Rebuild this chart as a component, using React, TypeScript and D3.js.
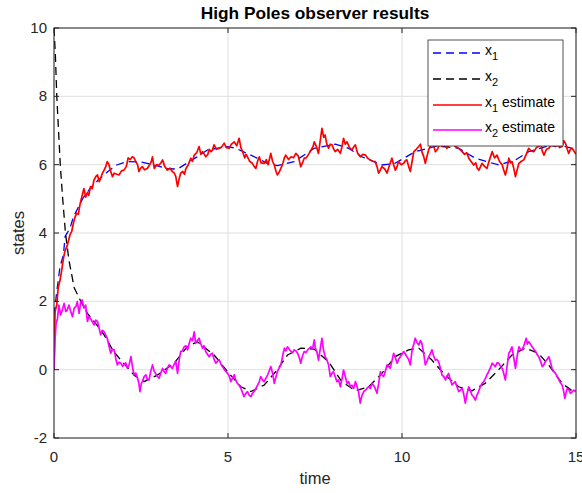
import * as d3 from 'd3';

// true state x1 (blue dashed)
const x1Time = [0, 0.1, 0.17, 0.27, 0.32, 0.46, 0.56, 0.84, 1.05, 1.27, 1.55, 1.8, 2.09, 2.5, 2.88, 3.3, 3.55, 3.83, 4.1, 4.41, 4.98, 5.22, 5.66, 6.13, 6.42, 6.9, 7.48, 8.08, 8.46, 8.85, 9.42, 9.8, 10.38, 11.0, 11.63, 12.1, 12.78, 13.26, 13.64, 14.2, 14.6, 15];
const x1True = [1.6, 2.45, 3.0, 3.36, 3.9, 4.14, 4.48, 5.03, 5.32, 5.55, 5.8, 5.99, 6.09, 6.08, 5.99, 5.88, 5.87, 6.05, 6.22, 6.43, 6.53, 6.48, 6.28, 6.04, 5.97, 6.09, 6.48, 6.6, 6.48, 6.23, 5.99, 6.04, 6.38, 6.55, 6.48, 6.19, 5.99, 6.14, 6.38, 6.55, 6.55, 6.45];

// true state x2 (black dashed)
const x2Time = [0, 0.04, 0.08, 0.13, 0.18, 0.25, 0.33, 0.43, 0.58, 0.77, 0.96, 1.2, 1.44, 1.7, 1.92, 2.3, 2.59, 2.97, 3.45, 3.83, 4.12, 4.6, 4.99, 5.37, 5.66, 6.04, 6.42, 6.71, 7.1, 7.48, 7.89, 8.27, 8.66, 9.04, 9.42, 9.8, 10.19, 10.48, 10.86, 11.24, 11.63, 12.01, 12.39, 12.78, 13.16, 13.54, 13.92, 14.21, 14.6, 14.93, 15];
const x2True = [10, 9.2, 8.0, 7.0, 6.0, 5.0, 4.0, 3.2, 2.4, 2.0, 1.65, 1.35, 1.02, 0.55, 0.28, -0.16, -0.35, -0.16, 0.19, 0.67, 0.82, 0.43, -0.06, -0.5, -0.64, -0.45, 0, 0.43, 0.63, 0.6, 0.23, -0.35, -0.62, -0.5, -0.11, 0.38, 0.58, 0.63, 0.28, -0.16, -0.5, -0.62, -0.4, 0, 0.43, 0.63, 0.48, 0.14, -0.4, -0.65, -0.67];

// x1 estimate (red)
const est1Time = [0, 0.03, 0.08, 0.12, 0.17, 0.22, 0.27, 0.31, 0.37, 0.41, 0.46, 0.51, 0.56, 0.6, 0.65, 0.7, 0.75, 0.8, 0.86, 0.91, 0.96, 1.0, 1.05, 1.1, 1.15, 1.2, 1.25, 1.3, 1.34, 1.39, 1.44, 1.49, 1.53, 1.58, 1.63, 1.68, 1.73, 1.8, 1.87, 1.94, 2.01, 2.08, 2.13, 2.19, 2.25, 2.3, 2.35, 2.4, 2.44, 2.49, 2.54, 2.6, 2.68, 2.75, 2.8, 2.83, 2.88, 2.95, 3.02, 3.07, 3.12, 3.18, 3.26, 3.33, 3.4, 3.46, 3.5, 3.55, 3.6, 3.64, 3.7, 3.75, 3.79, 3.86, 3.93, 3.98, 4.03, 4.1, 4.17, 4.22, 4.27, 4.32, 4.36, 4.42, 4.46, 4.51, 4.55, 4.6, 4.67, 4.75, 4.82, 4.89, 4.95, 5.03, 5.1, 5.18, 5.25, 5.32, 5.37, 5.42, 5.48, 5.52, 5.56, 5.62, 5.7, 5.75, 5.8, 5.85, 5.9, 5.95, 6.04, 6.1, 6.15, 6.2, 6.23, 6.28, 6.33, 6.38, 6.42, 6.47, 6.52, 6.58, 6.62, 6.66, 6.74, 6.81, 6.88, 6.95, 7.02, 7.09, 7.14, 7.19, 7.25, 7.33, 7.4, 7.45, 7.48, 7.54, 7.6, 7.65, 7.7, 7.75, 7.79, 7.84, 7.89, 7.94, 7.99, 8.04, 8.08, 8.15, 8.23, 8.28, 8.32, 8.37, 8.42, 8.49, 8.56, 8.6, 8.66, 8.72, 8.8, 8.87, 8.95, 9.02, 9.09, 9.16, 9.23, 9.28, 9.33, 9.38, 9.42, 9.5, 9.57, 9.63, 9.71, 9.76, 9.81, 9.86, 9.9, 9.98, 10.05, 10.1, 10.14, 10.19, 10.24, 10.29, 10.34, 10.41, 10.48, 10.53, 10.57, 10.62, 10.67, 10.72, 10.77, 10.81, 10.86, 10.91, 10.96, 11.02, 11.08, 11.15, 11.22, 11.29, 11.36, 11.43, 11.48, 11.53, 11.6, 11.66, 11.73, 11.8, 11.86, 11.92, 11.98, 12.06, 12.12, 12.16, 12.21, 12.26, 12.3, 12.37, 12.44, 12.5, 12.55, 12.59, 12.66, 12.73, 12.8, 12.88, 12.92, 12.97, 13.02, 13.07, 13.12, 13.16, 13.21, 13.26, 13.31, 13.36, 13.43, 13.5, 13.57, 13.64, 13.71, 13.79, 13.86, 13.93, 13.98, 14.03, 14.08, 14.15, 14.22, 14.3, 14.36, 14.41, 14.47, 14.53, 14.6, 14.65, 14.7, 14.75, 14.79, 14.84, 14.89, 14.94, 14.99, 15];
const est1Val = [0, 1.7, 1.9, 2.4, 2.6, 2.9, 3.25, 3.45, 3.6, 3.75, 3.95, 4.05, 4.3, 4.45, 4.58, 4.55, 4.85, 5.06, 5.3, 5.05, 5.18, 5.1, 5.36, 5.3, 5.55, 5.65, 5.7, 5.5, 5.6, 5.75, 5.84, 5.95, 6.09, 6.0, 5.8, 5.65, 5.75, 5.72, 5.7, 5.82, 5.84, 5.95, 6.2, 6.15, 6.23, 6.2, 6.09, 6.0, 5.8, 5.9, 5.94, 5.85, 5.89, 6.0, 6.1, 6.23, 5.89, 6.0, 5.99, 6.05, 6.14, 5.95, 5.84, 5.9, 5.8, 5.75, 5.65, 5.36, 5.6, 5.75, 5.8, 5.72, 5.89, 6.0, 6.19, 6.1, 6.28, 6.35, 6.53, 6.3, 6.38, 6.3, 6.23, 6.3, 6.45, 6.38, 6.42, 6.58, 6.45, 6.48, 6.52, 6.63, 6.5, 6.48, 6.6, 6.67, 6.55, 6.77, 6.5, 6.38, 6.2, 6.3, 6.23, 6.1, 6.04, 5.95, 5.89, 6.1, 6.23, 6.05, 6.04, 6.15, 6.0, 6.2, 6.33, 6.1, 5.99, 5.8, 5.7, 5.78, 5.89, 6.05, 6.2, 6.28, 6.15, 6.23, 6.2, 6.33, 6.25, 5.94, 6.05, 6.19, 6.2, 6.33, 6.45, 6.55, 6.67, 6.53, 6.33, 6.7, 7.06, 6.8, 6.87, 6.6, 6.48, 6.6, 6.58, 6.45, 6.38, 6.45, 6.33, 6.55, 6.77, 6.6, 6.67, 6.5, 6.43, 6.5, 6.58, 6.35, 6.23, 6.3, 6.28, 6.18, 6.14, 6.1, 6.09, 5.95, 5.75, 5.85, 5.94, 5.88, 5.75, 5.95, 6.19, 6.0, 5.84, 5.95, 6.09, 6.0, 6.04, 6.12, 6.14, 5.95, 5.8, 6.1, 6.38, 6.45, 6.53, 6.6, 6.38, 6.25, 6.04, 6.25, 6.45, 6.53, 6.7, 6.55, 6.38, 6.45, 6.6, 6.53, 6.62, 6.48, 6.6, 6.7, 6.6, 6.53, 6.5, 6.45, 6.38, 6.3, 6.35, 6.19, 6.1, 5.99, 6.05, 5.9, 5.84, 5.95, 6.04, 5.95, 5.89, 6.1, 6.25, 6.38, 6.2, 6.28, 6.1, 5.99, 5.85, 5.7, 5.9, 6.19, 6.05, 6.09, 5.9, 5.65, 5.85, 6.04, 6.1, 6.14, 6.3, 6.48, 6.4, 6.38, 6.5, 6.53, 6.65, 6.4, 6.28, 6.45, 6.48, 6.6, 6.55, 6.53, 6.65, 6.5, 6.53, 6.7, 6.62, 6.45, 6.33, 6.45, 6.48, 6.4, 6.33, 6.3];

// x2 estimate (magenta)
const est2Time = [0, 0.03, 0.06, 0.1, 0.14, 0.19, 0.24, 0.29, 0.34, 0.38, 0.43, 0.48, 0.53, 0.58, 0.63, 0.67, 0.72, 0.77, 0.81, 0.86, 0.91, 0.96, 1.0, 1.05, 1.1, 1.15, 1.2, 1.25, 1.3, 1.34, 1.39, 1.44, 1.49, 1.53, 1.58, 1.63, 1.68, 1.73, 1.78, 1.82, 1.87, 1.92, 1.97, 2.01, 2.06, 2.11, 2.16, 2.21, 2.26, 2.3, 2.35, 2.4, 2.44, 2.47, 2.51, 2.54, 2.59, 2.64, 2.68, 2.73, 2.78, 2.83, 2.88, 2.92, 2.97, 3.02, 3.07, 3.12, 3.16, 3.21, 3.26, 3.31, 3.36, 3.4, 3.45, 3.5, 3.55, 3.6, 3.64, 3.69, 3.74, 3.79, 3.84, 3.88, 3.93, 3.98, 4.03, 4.07, 4.12, 4.17, 4.22, 4.27, 4.31, 4.36, 4.41, 4.46, 4.51, 4.55, 4.6, 4.65, 4.7, 4.75, 4.8, 4.84, 4.9, 4.94, 4.99, 5.04, 5.08, 5.13, 5.18, 5.22, 5.27, 5.32, 5.37, 5.41, 5.46, 5.51, 5.56, 5.61, 5.66, 5.7, 5.75, 5.8, 5.85, 5.9, 5.94, 5.99, 6.04, 6.09, 6.14, 6.18, 6.23, 6.28, 6.33, 6.38, 6.42, 6.47, 6.52, 6.57, 6.62, 6.66, 6.71, 6.76, 6.81, 6.86, 6.9, 6.95, 7.0, 7.05, 7.09, 7.14, 7.19, 7.24, 7.29, 7.33, 7.38, 7.43, 7.48, 7.51, 7.56, 7.6, 7.65, 7.7, 7.74, 7.79, 7.84, 7.89, 7.94, 7.99, 8.03, 8.08, 8.13, 8.18, 8.23, 8.28, 8.32, 8.37, 8.42, 8.47, 8.51, 8.56, 8.61, 8.66, 8.71, 8.75, 8.8, 8.85, 8.9, 8.95, 8.99, 9.04, 9.09, 9.14, 9.18, 9.23, 9.28, 9.33, 9.38, 9.42, 9.47, 9.52, 9.57, 9.62, 9.66, 9.71, 9.76, 9.81, 9.86, 9.9, 9.95, 10.0, 10.05, 10.1, 10.14, 10.19, 10.24, 10.29, 10.34, 10.38, 10.43, 10.48, 10.53, 10.57, 10.62, 10.67, 10.72, 10.77, 10.81, 10.86, 10.91, 10.96, 11.0, 11.05, 11.1, 11.15, 11.2, 11.25, 11.29, 11.34, 11.39, 11.44, 11.48, 11.53, 11.58, 11.63, 11.68, 11.73, 11.77, 11.82, 11.87, 11.92, 11.96, 12.01, 12.06, 12.11, 12.15, 12.2, 12.25, 12.3, 12.35, 12.4, 12.44, 12.49, 12.54, 12.59, 12.63, 12.68, 12.73, 12.78, 12.83, 12.88, 12.92, 12.97, 13.02, 13.07, 13.11, 13.16, 13.21, 13.26, 13.31, 13.36, 13.4, 13.45, 13.5, 13.57, 13.6, 13.64, 13.69, 13.74, 13.79, 13.84, 13.88, 13.93, 13.98, 14.03, 14.08, 14.12, 14.17, 14.22, 14.27, 14.31, 14.36, 14.41, 14.46, 14.51, 14.56, 14.6, 14.64, 14.68, 14.72, 14.75, 14.8, 14.84, 14.89, 14.94, 15];
const est2Val = [0, 0.9, 1.35, 1.5, 1.89, 1.6, 1.75, 1.94, 1.7, 1.75, 1.89, 1.7, 1.55, 1.8, 1.85, 1.99, 1.65, 1.99, 2.04, 1.8, 1.89, 1.41, 1.55, 1.5, 1.4, 1.31, 1.45, 1.41, 1.2, 1.02, 1.15, 1.11, 1.0, 0.92, 0.7, 0.48, 0.6, 0.58, 0.3, 0.14, 0.22, 0.19, 0.1, 0.14, 0.2, 0.04, 0.15, 0.38, 0.05, -0.15, -0.1, -0.25, -0.4, -0.64, -0.4, -0.35, -0.2, -0.15, -0.28, -0.3, -0.05, 0.14, -0.05, -0.11, -0.2, -0.25, -0.1, 0.04, -0.05, -0.11, 0.05, 0.14, 0.08, 0.04, 0.15, 0.24, -0.11, 0.3, 0.53, 0.55, 0.67, 0.7, 0.58, 0.75, 0.92, 0.85, 1.11, 0.77, 0.85, 0.92, 0.75, 0.63, 0.7, 0.53, 0.45, 0.38, 0.45, 0.48, 0.3, 0.19, 0.25, 0.29, 0.15, 0.09, 0.0, -0.05, -0.11, -0.2, -0.35, -0.25, -0.15, -0.3, -0.4, -0.45, -0.55, -0.65, -0.79, -0.7, -0.64, -0.75, -0.79, -0.7, -0.64, -0.55, -0.45, -0.35, -0.2, -0.3, -0.35, -0.25, -0.15, -0.05, 0.09, -0.1, -0.4, -0.2, -0.06, 0.05, 0.14, 0.4, 0.63, 0.55, 0.67, 0.6, 0.53, 0.5, 0.58, 0.55, 0.48, 0.35, 0.19, 0.4, 0.53, 0.5, 0.58, 0.62, 0.67, 0.6, 0.87, 0.63, 0.5, 0.28, 0.6, 0.92, 0.6, 0.38, 0.3, 0.14, -0.2, -0.1, -0.06, -0.2, -0.35, -0.3, -0.5, -0.25, -0.01, -0.2, -0.4, -0.35, -0.5, -0.45, -0.55, -0.35, -0.5, -0.64, -0.98, -0.75, -0.64, -0.6, -0.55, -0.5, -0.55, -0.4, -0.45, -0.55, -0.69, -0.4, -0.06, -0.15, -0.2, -0.05, 0.14, 0.1, 0.04, 0.25, 0.48, 0.35, 0.19, 0.3, 0.38, 0.45, 0.53, 0.45, 0.38, 0.3, 0.14, 0.58, 0.75, 0.92, 0.8, 0.72, 0.85, 0.77, 0.5, 0.14, 0.25, 0.38, 0.45, 0.58, 0.4, 0.28, 0.3, 0.24, 0.05, -0.16, -0.2, -0.3, -0.2, -0.11, -0.3, -0.45, -0.4, -0.35, -0.5, -0.64, -0.6, -0.55, -0.7, -0.98, -0.7, -0.5, -0.6, -0.74, -0.8, -0.89, -0.75, -0.64, -0.5, -0.4, -0.35, -0.25, -0.15, -0.06, 0.05, 0.19, 0.15, 0.09, 0.2, 0.19, 0.1, 0.04, -0.1, -0.3, 0.1, 0.48, 0.55, 0.67, 0.35, 0.04, 0.4, 0.67, 0.6, 0.58, 0.7, 0.92, 0.75, 0.82, 0.75, 0.67, 0.6, 0.53, 0.45, 0.38, 0.25, 0.09, 0.15, 0.24, 0.3, 0.38, 0.2, 0.04, -0.05, -0.11, -0.2, -0.3, -0.4, -0.45, -0.6, -0.84, -0.65, -0.55, -0.6, -0.69, -0.65, -0.6, -0.64];

const xTicks = [0, 5, 10, 15];
const yTicks = [-2, 0, 2, 4, 6, 8, 10];
const legendLabels = ['x', 'x', 'x', 'x'];
const legendSubs = ['1', '2', '1', '2'];
const legendSuffix = ['', '', ' estimate', ' estimate'];

const W = 582;
const H = 493;
const margin = { top: 28, right: 6, bottom: 55, left: 54 };
const axisColor = '#262626';
const font = "'Liberation Sans', Arial, sans-serif";

const App = () => {
  const innerW = W - margin.left - margin.right;
  const innerH = H - margin.top - margin.bottom;

  const x = d3.scaleLinear().domain([0, 15]).range([0, innerW]);
  const y = d3.scaleLinear().domain([-2, 10]).range([innerH, 0]);

  const line = d3.line<[number, number]>()
    .x(d => x(d[0]))
    .y(d => y(d[1]));

  const zip = (t: number[], v: number[]) => t.map((tt, i) => [tt, v[i]] as [number, number]);

  const series = [
    { pts: zip(x1Time, x1True), color: '#0000ff', dash: '8,5', width: 1.3 },
    { pts: zip(x2Time, x2True), color: '#000000', dash: '8,5', width: 1.3 },
    { pts: zip(est1Time, est1Val), color: '#ff0000', dash: undefined, width: 1.7 },
    { pts: zip(est2Time, est2Val), color: '#ff00ff', dash: undefined, width: 1.7 },
  ];

  // legend box in axes coordinates
  const lg = { x: 428 - margin.left, y: 40 - margin.top, w: 135, h: 106 };
  const rowY = [13, 39, 65, 90];

  return (
    <svg width={W} height={H} style={{ position: 'fixed', left: 0, top: 0, background: '#fff' }} fontFamily={font}>
      <rect width={W} height={H} fill="#fff" />
      <text x={margin.left + innerW / 2} y={19} textAnchor="middle" fontWeight="bold" fontSize={17.3} fill="#000">
        High Poles observer results
      </text>
      <g transform={`translate(${margin.left},${margin.top})`}>
        <defs>
          <clipPath id="plotClip">
            <rect x={0} y={0} width={innerW} height={innerH} />
          </clipPath>
        </defs>
        {/* grid */}
        {xTicks.map(t => (
          <line key={`gx${t}`} x1={x(t)} x2={x(t)} y1={0} y2={innerH} stroke="#dfdfdf" strokeWidth={1} />
        ))}
        {yTicks.map(t => (
          <line key={`gy${t}`} x1={0} x2={innerW} y1={y(t)} y2={y(t)} stroke="#dfdfdf" strokeWidth={1} />
        ))}
        {/* data */}
        <g clipPath="url(#plotClip)">
          {series.map((s, i) => (
            <path key={i} d={line(s.pts) || ''} fill="none" stroke={s.color} strokeWidth={s.width}
              strokeDasharray={s.dash} strokeLinejoin="round" />
          ))}
        </g>
        {/* box and ticks */}
        <rect x={0} y={0} width={innerW} height={innerH} fill="none" stroke={axisColor} strokeWidth={1} />
        {xTicks.map(t => (
          <g key={`tx${t}`}>
            <line x1={x(t)} x2={x(t)} y1={innerH} y2={innerH - 5} stroke={axisColor} />
            <line x1={x(t)} x2={x(t)} y1={0} y2={5} stroke={axisColor} />
            <text x={x(t)} y={innerH + 24} textAnchor="middle" fontSize={15} fill={axisColor}>{t}</text>
          </g>
        ))}
        {yTicks.map(t => (
          <g key={`ty${t}`}>
            <line x1={0} x2={5} y1={y(t)} y2={y(t)} stroke={axisColor} />
            <line x1={innerW} x2={innerW - 5} y1={y(t)} y2={y(t)} stroke={axisColor} />
            <text x={-7} y={y(t) + 5} textAnchor="end" fontSize={15} fill={axisColor}>{t}</text>
          </g>
        ))}
        <text x={innerW / 2} y={innerH + 46} textAnchor="middle" fontSize={16.5} fill={axisColor}>time</text>
        <text transform={`translate(-30,${innerH / 2}) rotate(-90)`} textAnchor="middle" fontSize={16.5} fill={axisColor}>states</text>
        {/* legend */}
        <g transform={`translate(${lg.x},${lg.y})`}>
          <rect x={0} y={0} width={lg.w} height={lg.h} fill="#fff" stroke={axisColor} strokeWidth={0.8} />
          {series.map((s, i) => (
            <g key={`lg${i}`}>
              <line x1={5} x2={54} y1={rowY[i]} y2={rowY[i]} stroke={s.color} strokeWidth={s.width}
                strokeDasharray={s.dash} />
              <text x={57} y={rowY[i] + 2} fontSize={14} fill="#000">
                {legendLabels[i]}
                <tspan dy={5} fontSize={11}>{legendSubs[i]}</tspan>
                <tspan dy={-5}>{legendSuffix[i]}</tspan>
              </text>
            </g>
          ))}
        </g>
      </g>
    </svg>
  );
};

export default App;
